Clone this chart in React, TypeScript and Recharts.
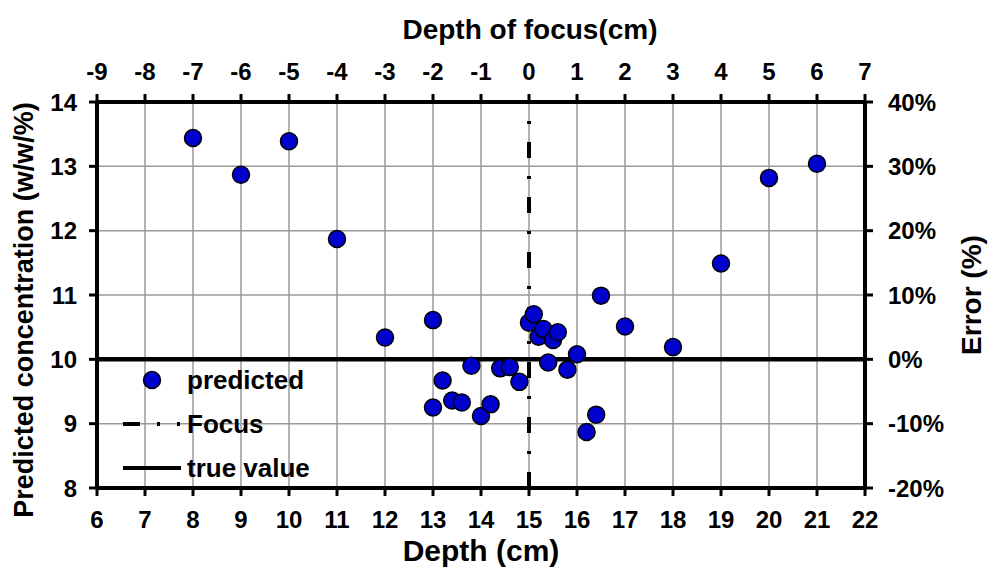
import { CartesianGrid, Legend, ReferenceLine, Scatter, ScatterChart, XAxis, YAxis } from "recharts";

const FONT = '"Liberation Sans", Arial, sans-serif';

// Depth (cm) and predicted concentration (w/w/%) for each measurement
const depth = [8, 9, 10, 11, 12, 13, 13, 13.2, 13.4, 13.6, 13.8, 14, 14.2, 14.4, 14.6, 14.8, 15, 15.1, 15.2, 15.3, 15.4, 15.5, 15.6, 15.8, 16, 16.2, 16.4, 16.5, 17, 18, 19, 20, 21];
const predicted = [13.44, 12.87, 13.39, 11.87, 10.34, 10.61, 9.25, 9.67, 9.36, 9.33, 9.9, 9.12, 9.3, 9.86, 9.88, 9.65, 10.57, 10.7, 10.35, 10.47, 9.95, 10.3, 10.42, 9.84, 10.08, 8.87, 9.14, 10.99, 10.51, 10.19, 11.49, 12.82, 13.04];

const depthTicks = [6, 7, 8, 9, 10, 11, 12, 13, 14, 15, 16, 17, 18, 19, 20, 21, 22];
const focusTicks = [-9, -8, -7, -6, -5, -4, -3, -2, -1, 0, 1, 2, 3, 4, 5, 6, 7];
const concTicks = [8, 9, 10, 11, 12, 13, 14];
const errorTicks = [-0.2, -0.1, 0, 0.1, 0.2, 0.3, 0.4];

const FOCUS_DEPTH = 15;
const TRUE_VALUE = 10;

const points = depth.map((d, i) => ({ x: d, y: predicted[i] }));
// same measurements expressed on the secondary axes (depth of focus / relative error)
const relPoints = depth.map((d, i) => ({ fx: d - FOCUS_DEPTH, err: (predicted[i] - TRUE_VALUE) / TRUE_VALUE }));

const axisLine = { stroke: "#000", strokeWidth: 4 };
const tickLine = { stroke: "#000", strokeWidth: 3 };
const titleStyle = { fill: "#000", fontWeight: "bold", fontFamily: FONT } as const;

function makeTick(fmt: (v: number) => string) {
  return function Tick(p: any) {
    const va = p.verticalAnchor;
    const dy = va === "start" ? "0.71em" : va === "middle" ? "0.355em" : "0";
    return (
      <text x={p.x} y={p.y} dy={dy} textAnchor={p.textAnchor} fontSize={24} {...titleStyle}>
        {fmt(p.payload.value)}
      </text>
    );
  };
}

const plainTick = makeTick((v) => String(v));
const pctTick = makeTick((v) => `${Math.round(v * 100)}%`);

function Dot(p: any) {
  return <circle cx={p.cx} cy={p.cy} r={8.5} fill="#0000CC" stroke="#000" strokeWidth={1.5} />;
}

function NoDot() {
  return <g />;
}

function LegendBox() {
  const row = { display: "flex", alignItems: "center", height: 44 } as const;
  const txt = { fontFamily: FONT, fontWeight: "bold", fontSize: 26, color: "#000", marginLeft: 6, lineHeight: "44px" } as const;
  return (
    <div>
      <div style={row}>
        <svg width={66} height={44}>
          <circle cx={37} cy={22} r={8.5} fill="#0000CC" stroke="#000" strokeWidth={1.5} />
        </svg>
        <span style={txt}>predicted</span>
      </div>
      <div style={row}>
        <svg width={66} height={44}>
          <line x1={8} y1={22} x2={66} y2={22} stroke="#000" strokeWidth={4} strokeDasharray="17 17 3 17 3 100" />
        </svg>
        <span style={txt}>Focus</span>
      </div>
      <div style={row}>
        <svg width={66} height={44}>
          <line x1={8} y1={22} x2={66} y2={22} stroke="#000" strokeWidth={4} />
        </svg>
        <span style={txt}>true value</span>
      </div>
    </div>
  );
}

export default function App() {
  return (
    <div style={{ position: "absolute", left: 0, top: 0, background: "#fff" }}>
      <ScatterChart width={990} height={573} margin={{ top: 62, right: 55, bottom: 40, left: 35 }}>
        <CartesianGrid xAxisId="bottom" yAxisId="left" stroke="#9a9a9a" strokeWidth={1.5} />
        <XAxis
          xAxisId="bottom"
          dataKey="x"
          type="number"
          domain={[6, 22]}
          ticks={depthTicks}
          interval={0}
          allowDataOverflow
          height={45}
          tick={plainTick}
          axisLine={axisLine}
          tickLine={tickLine}
          tickSize={8}
          tickMargin={15}
          label={{
            content: ({ viewBox }: any) => (
              <text x={viewBox.x + viewBox.width / 2} y={viewBox.y + viewBox.height + 28} textAnchor="middle" fontSize={30} {...titleStyle}>
                Depth (cm)
              </text>
            ),
          }}
        />
        <XAxis
          xAxisId="top"
          dataKey="fx"
          orientation="top"
          type="number"
          domain={[-9, 7]}
          ticks={focusTicks}
          interval={0}
          allowDataOverflow
          height={40}
          tick={plainTick}
          axisLine={axisLine}
          tickLine={tickLine}
          tickSize={8}
          tickMargin={14}
          label={{
            content: ({ viewBox }: any) => (
              <text x={viewBox.x + viewBox.width / 2 + 49} y={viewBox.y - 23} textAnchor="middle" fontSize={28} {...titleStyle}>
                Depth of focus(cm)
              </text>
            ),
          }}
        />
        <YAxis
          yAxisId="left"
          dataKey="y"
          type="number"
          domain={[8, 14]}
          ticks={concTicks}
          interval={0}
          allowDataOverflow
          width={62}
          tick={plainTick}
          axisLine={axisLine}
          tickLine={tickLine}
          tickSize={8}
          tickMargin={12}
          label={{
            content: ({ viewBox }: any) => {
              const x = viewBox.x - 2;
              const y = viewBox.y + viewBox.height / 2 + 15;
              return (
                <text x={x} y={y} transform={`rotate(-90, ${x}, ${y})`} textAnchor="middle" fontSize={27} {...titleStyle}>
                  Predicted concentration (w/w/%)
                </text>
              );
            },
          }}
        />
        <YAxis
          yAxisId="right"
          dataKey="err"
          orientation="right"
          type="number"
          domain={[-0.2, 0.4]}
          ticks={errorTicks}
          interval={0}
          allowDataOverflow
          width={70}
          tick={pctTick}
          axisLine={axisLine}
          tickLine={tickLine}
          tickSize={8}
          tickMargin={15}
          label={{
            content: ({ viewBox }: any) => {
              const x = viewBox.x + viewBox.width + 46;
              const y = viewBox.y + viewBox.height / 2;
              return (
                <text x={x} y={y} transform={`rotate(-90, ${x}, ${y})`} textAnchor="middle" fontSize={28} {...titleStyle}>
                  Error (%)
                </text>
              );
            },
          }}
        />
        <ReferenceLine xAxisId="bottom" yAxisId="left" y={TRUE_VALUE} stroke="#000" strokeWidth={4.5} />
        <ReferenceLine xAxisId="bottom" yAxisId="left" x={FOCUS_DEPTH} stroke="#000" strokeWidth={4} strokeDasharray="16 18 3 18" />
        <Scatter data={relPoints} xAxisId="top" yAxisId="right" shape={NoDot} legendType="none" isAnimationActive={false} />
        <Scatter name="predicted" data={points} xAxisId="bottom" yAxisId="left" shape={Dot} isAnimationActive={false} />
        <Legend
          layout="vertical"
          align="center"
          verticalAlign="middle"
          content={() => <LegendBox />}
          wrapperStyle={{ left: 115, top: 358, width: 260 }}
        />
      </ScatterChart>
    </div>
  );
}
